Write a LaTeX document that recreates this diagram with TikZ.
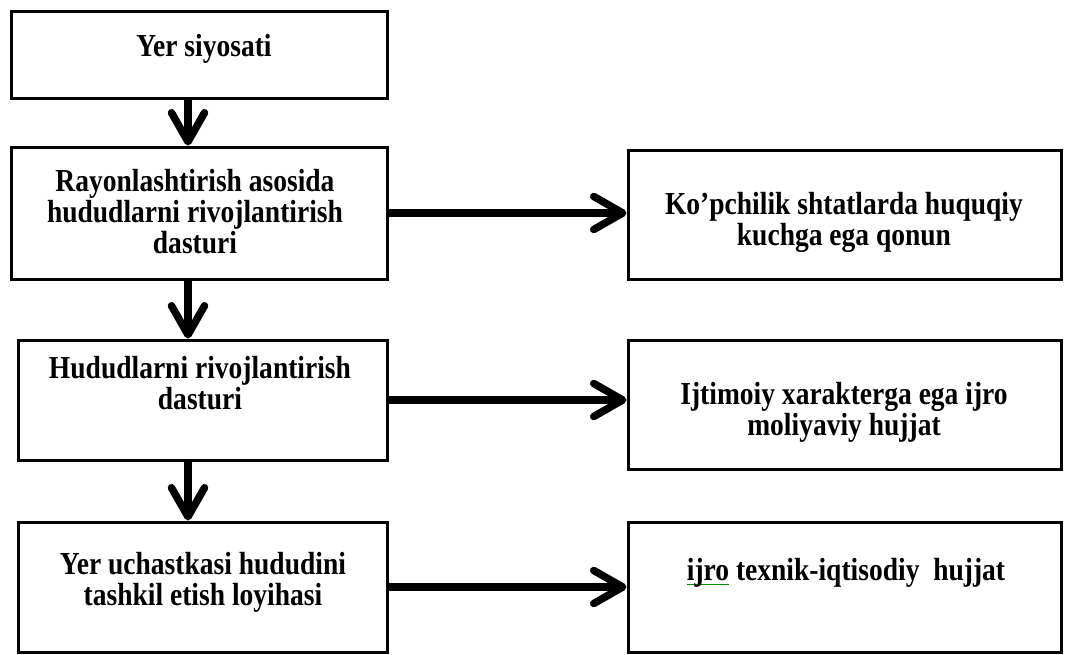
\documentclass[tikz,border=0pt]{standalone}
\usepackage{fontspec}
\setmainfont{Liberation Serif}[FakeStretch=0.86]
\usetikzlibrary{arrows.meta}
\newlength\ijw
\begin{document}
\begin{tikzpicture}[x=1pt,y=-1pt,
  box/.style={draw, line width=3pt, inner sep=0pt},
  txt/.style={align=center, font=\bfseries\fontsize{32}{31}\selectfont, inner sep=0pt, anchor=base},
  flow/.style={line width=7.5pt, -{Straight Barb[length=29pt,width=33pt,line cap=round,line join=round]}}]
\useasboundingbox (0,0) rectangle (1066,654);
% left column boxes
\node[box, minimum width=376pt, minimum height=87pt]  (b1) at (199,54.5) {};
\node[box, minimum width=376pt, minimum height=132pt] (b2) at (199,213) {};
\node[box, minimum width=369pt, minimum height=120pt] (b3) at (202.5,400) {};
\node[box, minimum width=369pt, minimum height=130pt] (b4) at (202.5,587) {};
% right column boxes
\node[box, minimum width=433pt, minimum height=129pt] (r1) at (844.5,214.5) {};
\node[box, minimum width=433pt, minimum height=129pt] (r2) at (844.5,404.5) {};
\node[box, minimum width=433pt, minimum height=130pt] (r3) at (844.5,587) {};
% texts (anchor base = baseline of the last line)
\node[txt] (t1) at (204,56) {Yer siyosati};
\node[txt] (t2) at (195,253) {Rayonlashtirish  asosida\\hududlarni rivojlantirish\\dasturi};
\node[txt] (t3) at (200,409) {Hududlarni rivojlantirish\\dasturi};
\node[txt] (t4) at (203,605) {Yer uchastkasi hududini\\tashkil etish loyihasi};
\node[txt] (s1) at (844,245) {Ko’pchilik shtatlarda huquqiy\\kuchga ega qonun};
\node[txt] (s2) at (844,435) {Ijtimoiy xarakterga ega ijro\\moliyaviy hujjat};
\node[txt] (s3) at (846,580) {\settowidth\ijw{ijro}\makebox[0pt][l]{\textcolor{green!55!black}{\rule[-5pt]{\ijw}{1pt}}}ijro texnik-iqtisodiy~ hujjat};
% connectors
\coordinate (ax) at (188,0);
\draw[flow] (b1.south -| ax) -- (b2.north -| ax);
\draw[flow] (b2.south -| ax) -- (b3.north -| ax);
\draw[flow] (b3.south -| ax) -- (b4.north -| ax);
\draw[flow] (b2.east) -- (b2.east -| r1.west);
\draw[flow] (b3.east) -- (b3.east -| r2.west);
\draw[flow] (b4.east) -- (b4.east -| r3.west);
\end{tikzpicture}
\end{document}
